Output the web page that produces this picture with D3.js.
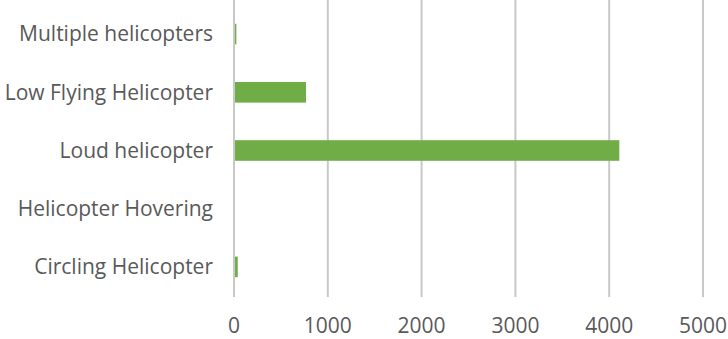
<!DOCTYPE html>
<html><head><meta charset="utf-8">
<script src="https://cdn.jsdelivr.net/npm/d3@7"></script>
<style>body{margin:0;background:#fff}</style>
</head><body>
<svg id="c" width="728" height="339"></svg>
<script>
const categories = ["Multiple helicopters","Low Flying Helicopter","Loud helicopter","Helicopter Hovering","Circling Helicopter"];
const values = [25, 768, 4108, 0, 40];
const ticks = [0,1000,2000,3000,4000,5000];

const svg = d3.select("#c");
const x = d3.scaleLinear().domain([0,5000]).range([234,703]);
const y = d3.scaleBand().domain(categories).range([5,296]).paddingInner(0.646).paddingOuter(0.323);
const font = "'Open Sans', sans-serif";

svg.append("g").selectAll("line").data(ticks).join("line")
  .attr("x1",d=>x(d)).attr("x2",d=>x(d)).attr("y1",0).attr("y2",297)
  .attr("stroke","#c8c8c8").attr("stroke-width",2);

svg.append("g").selectAll("rect").data(values).join("rect")
  .attr("x",x(0)+1).attr("y",(d,i)=>y(categories[i]))
  .attr("width",d=>Math.max(0,x(d)-x(0)-1)).attr("height",y.bandwidth())
  .attr("fill","#70ad47");

svg.append("g").selectAll("text").data(categories).join("text")
  .attr("x",213).attr("y",d=>y(d)+y.bandwidth()/2).attr("dy","0.35em")
  .attr("text-anchor","end").attr("font-family",font).attr("font-size",21)
  .attr("fill","#595959").text(d=>d);

svg.append("g").selectAll("text").data(ticks).join("text")
  .attr("x",d=>x(d)).attr("y",326).attr("dy","0.35em")
  .attr("text-anchor","middle").attr("font-family",font).attr("font-size",21)
  .attr("fill","#595959").text(d=>d);
</script>
</body></html>
